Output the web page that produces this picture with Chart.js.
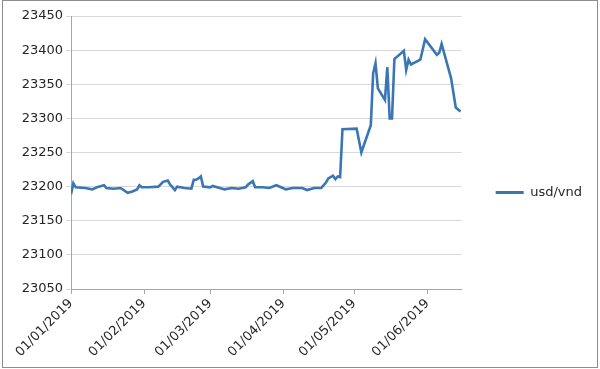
<!DOCTYPE html>
<html>
<head>
<meta charset="utf-8">
<script src="https://cdn.jsdelivr.net/npm/chart.js@4/dist/chart.umd.min.js"></script>
<style>
  html, body { margin: 0; padding: 0; background: #fff; }
  #wrap { position: relative; width: 600px; height: 369px; }
  #frame { position: absolute; left: 2px; top: 0px; width: 596px; height: 368px; border: 1px solid #8c8c8c; pointer-events: none; box-sizing: border-box; }
  canvas { position: absolute; left: 0; top: 0; }
</style>
</head>
<body>
<div id="wrap">
  <canvas id="c" width="600" height="369"></canvas>
  <div id="frame"></div>
</div>
<script>
const seriesName = "usd/vnd";
const dates = [
  "2019-01-01","2019-01-02","2019-01-03","2019-01-07","2019-01-10","2019-01-12","2019-01-15","2019-01-16",
  "2019-01-19","2019-01-22","2019-01-25","2019-01-27","2019-01-29","2019-01-30","2019-01-31","2019-02-03",
  "2019-02-07","2019-02-09","2019-02-11","2019-02-12","2019-02-14","2019-02-15","2019-02-18","2019-02-21",
  "2019-02-22","2019-02-23","2019-02-24","2019-02-25","2019-02-26","2019-03-01","2019-03-02","2019-03-05",
  "2019-03-07","2019-03-10","2019-03-13","2019-03-16","2019-03-17","2019-03-19","2019-03-20","2019-03-23",
  "2019-03-26","2019-03-29","2019-03-31","2019-04-02","2019-04-05","2019-04-09","2019-04-11","2019-04-14",
  "2019-04-17","2019-04-19","2019-04-20","2019-04-22","2019-04-23","2019-04-24","2019-04-25","2019-04-26",
  "2019-05-02","2019-05-04","2019-05-08","2019-05-09","2019-05-10","2019-05-11","2019-05-14","2019-05-15",
  "2019-05-16","2019-05-17","2019-05-18","2019-05-22","2019-05-23","2019-05-24","2019-05-25","2019-05-29",
  "2019-05-31","2019-06-05","2019-06-06","2019-06-07","2019-06-11","2019-06-13","2019-06-15"
];
const rates = [
  23189,23205,23199,23198,23196,23199,23202,23198,
  23197,23198,23191,23193,23196,23202,23199,23199,
  23200,23207,23209,23203,23195,23200,23198,23197,
  23210,23210,23212,23215,23200,23199,23201,23198,
  23196,23198,23197,23199,23203,23208,23199,23199,
  23198,23202,23199,23196,23198,23198,23195,23198,
  23198,23206,23212,23216,23211,23215,23214,23284,
  23285,23250,23290,23366,23381,23344,23327,23375,
  23300,23300,23387,23399,23371,23386,23379,23386,
  23416,23393,23396,23409,23359,23316,23310
];
const xTickDates = ["2019-01-01","2019-02-01","2019-03-01","2019-04-01","2019-05-01","2019-06-01"];
const xEndDate = "2019-06-15";
const yMin = 23050, yMax = 23450, yStep = 50;

const DAY = 86400000;
const origin = Date.UTC(2019, 0, 1);
function toDay(s) { const p = s.split("-").map(Number); return (Date.UTC(p[0], p[1]-1, p[2]) - origin) / DAY; }
function fmt(d) {
  const t = new Date(origin + Math.round(d) * DAY);
  const dd = String(t.getUTCDate()).padStart(2, "0");
  const mm = String(t.getUTCMonth() + 1).padStart(2, "0");
  return dd + "/" + mm + "/" + t.getUTCFullYear();
}
const points = dates.map((d, i) => ({ x: toDay(d), y: rates[i] }));
const xTicks = xTickDates.map(toDay);

const FONT = "'DejaVu Sans', sans-serif";
const TXT = "#262626";
const LINE = "#3b76b4";

new Chart(document.getElementById("c"), {
  type: "line",
  data: {
    datasets: [{
      label: seriesName,
      data: points,
      borderColor: LINE,
      backgroundColor: LINE,
      borderWidth: 2.6,
      pointRadius: 0,
      tension: 0,
      fill: false
    }]
  },
  options: {
    responsive: false,
    animation: false,
    devicePixelRatio: 1,
    layout: { padding: { left: 0, top: 16, right: 8, bottom: 0 } },
    plugins: {
      tooltip: { enabled: false },
      legend: {
        position: "right",
        align: "center",
        labels: {
          boxWidth: 28,
          boxHeight: 3,
          padding: 34,
          color: TXT,
          font: { family: FONT, size: 13 },
          generateLabels: (chart) => Chart.defaults.plugins.legend.labels.generateLabels(chart)
            .map(l => Object.assign(l, { lineWidth: 0 }))
        }
      }
    },
    scales: {
      x: {
        type: "linear",
        min: 0,
        max: toDay(xEndDate) + 0.5,
        afterBuildTicks: (s) => { s.ticks = xTicks.map(v => ({ value: v })); },
        afterFit: (s) => { s.height = 369 - 289; },
        ticks: {
          autoSkip: false,
          maxRotation: 45,
          minRotation: 45,
          padding: 2,
          color: TXT,
          font: { family: FONT, size: 13 },
          callback: (v) => fmt(v)
        },
        grid: { drawOnChartArea: false, drawTicks: true, tickLength: 5, color: "#a6a6a6" },
        border: { color: "#a6a6a6", width: 1 }
      },
      y: {
        min: yMin,
        max: yMax,
        afterFit: (s) => { s.width = 71; },
        ticks: {
          stepSize: yStep,
          padding: 3,
          color: TXT,
          font: { family: FONT, size: 13 },
          callback: (v) => String(v)
        },
        grid: { color: "#d9d9d9", tickLength: 5, lineWidth: 1 },
        border: { color: "#a6a6a6", width: 1 }
      }
    }
  }
});
</script>
</body>
</html>
